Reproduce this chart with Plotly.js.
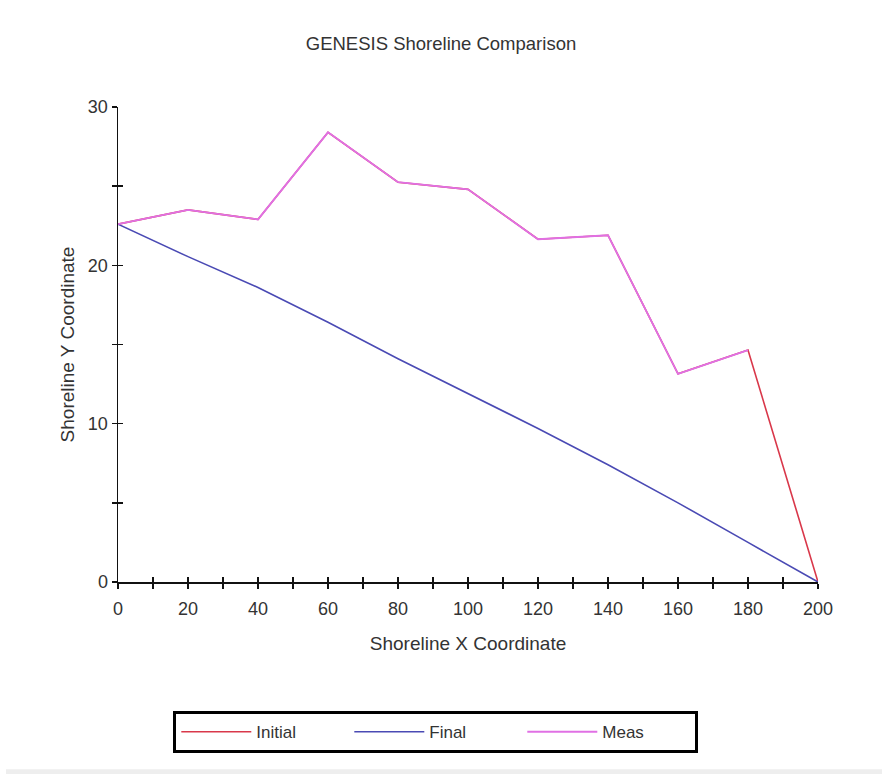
<!DOCTYPE html>
<html>
<head>
<meta charset="utf-8">
<script src="https://cdn.plot.ly/plotly-3.0.1.min.js"></script>
<style>html,body{margin:0;padding:0;background:#fff;}#chart{width:882px;height:775px;}</style>
</head>
<body>
<div id="chart"></div>
<script>
// Data
const xCoord = [0, 20, 40, 60, 80, 100, 120, 140, 160, 180, 200];
const initialY = [22.6, 23.5, 22.9, 28.4, 25.25, 24.8, 21.65, 21.9, 13.15, 14.65, 0];
const finalY = [22.6, 20.55, 18.6, 16.4, 14.1, 11.9, 9.7, 7.4, 5.0, 2.5, 0];
const measX = [0, 20, 40, 60, 80, 100, 120, 140, 160, 180];
const measY = [22.6, 23.5, 22.9, 28.4, 25.25, 24.8, 21.65, 21.9, 13.15, 14.65];
const seriesNames = ["Initial", "Final", "Meas"];
const xTickVals = [0, 20, 40, 60, 80, 100, 120, 140, 160, 180, 200];
const yTickVals = [0, 10, 20, 30];

const FONT = "Liberation Sans, Arial, sans-serif";
const TXT = "#333333";

const traces = [
  {x: xCoord, y: initialY, name: seriesNames[0], mode: "lines", line: {color: "#d9384a", width: 1.6}},
  {x: xCoord, y: finalY, name: seriesNames[1], mode: "lines", line: {color: "#4a4ab4", width: 1.6}},
  {x: measX, y: measY, name: seriesNames[2], mode: "lines", line: {color: "#e070e4", width: 1.8}},
  {x: [], y: [], xaxis: "x2", yaxis: "y2", showlegend: false, hoverinfo: "skip"}
];

const axisCommon = {
  showgrid: false, zeroline: false, showline: true, linecolor: "#111", linewidth: 1.5,
  ticks: "outside", ticklen: 5, tickwidth: 1.5, tickcolor: "#111",
  tickfont: {family: FONT, size: 18, color: TXT}
};

const layout = {
  width: 882, height: 775,
  margin: {l: 118, r: 64, t: 107, b: 193},
  paper_bgcolor: "#fff", plot_bgcolor: "#fff",
  font: {family: FONT, color: TXT},
  title: {text: "GENESIS Shoreline Comparison", font: {family: FONT, size: 18.5, color: TXT}, x: 0.5, xanchor: "center", y: 0.944, yanchor: "middle"},
  xaxis: Object.assign({}, axisCommon, {
    range: [0, 200], tickvals: xTickVals, ticktext: xTickVals.map(String),
    ticklabelstandoff: 5,
    minor: {dtick: 10, ticks: "outside", ticklen: 5, tickwidth: 1.5, tickcolor: "#111"},
    title: {text: "Shoreline X Coordinate", font: {family: FONT, size: 19, color: TXT}, standoff: 18}
  }),
  yaxis: Object.assign({}, axisCommon, {
    range: [0, 30], tickvals: yTickVals, ticktext: yTickVals.map(String),
    minor: {dtick: 5, ticks: "outside", ticklen: 5, tickwidth: 1.5, tickcolor: "#111"},
    title: {text: "Shoreline Y Coordinate", font: {family: FONT, size: 19, color: TXT}, standoff: 8}
  }),
  xaxis2: {overlaying: "x", range: [0, 200], dtick: 10, tick0: 0, ticks: "inside", ticklen: 5, tickwidth: 1.5, tickcolor: "#111", showticklabels: false, showgrid: false, zeroline: false, showline: false, side: "bottom"},
  yaxis2: {overlaying: "y", range: [0, 30], dtick: 5, tick0: 0, ticks: "inside", ticklen: 5, tickwidth: 1.5, tickcolor: "#111", showticklabels: false, showgrid: false, zeroline: false, showline: false, side: "left"},
  showlegend: true,
  legend: {
    orientation: "h", x: 0.454, xanchor: "center", y: -0.272, yanchor: "top",
    bordercolor: "#000", borderwidth: 3, bgcolor: "#fff",
    font: {family: FONT, size: 17, color: TXT},
    entrywidth: 88, itemwidth: 70
  },
  shapes: [
    {type: "rect", xref: "paper", yref: "paper", x0: -0.16, x1: 1.1, y0: -0.404, y1: -0.394, line: {width: 0}, fillcolor: "#eeeeee", layer: "below"}
  ]
};

Plotly.newPlot("chart", traces, layout, {displayModeBar: false, staticPlot: true});
</script>
</body>
</html>
